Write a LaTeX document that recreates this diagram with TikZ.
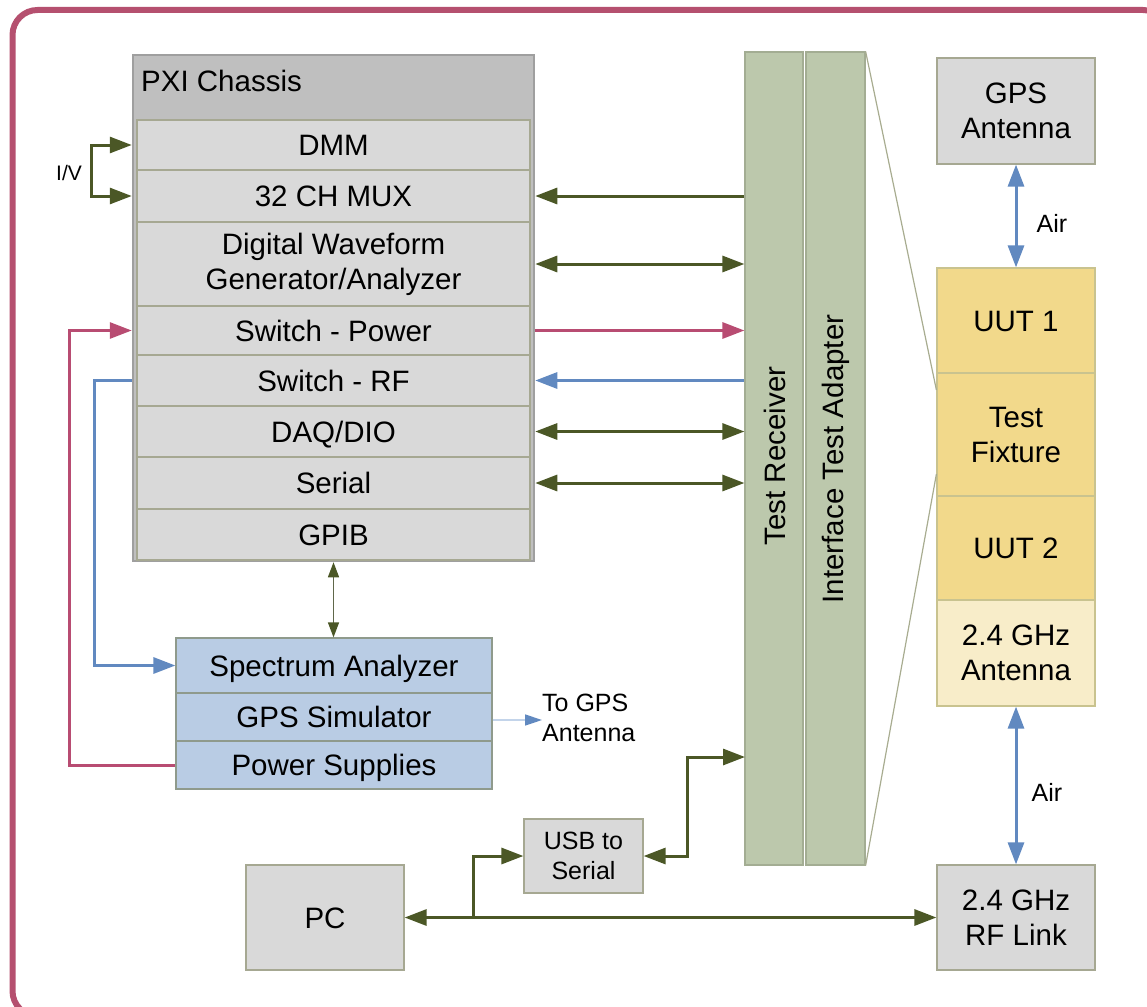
\documentclass[tikz,border=0pt]{standalone}
\usepackage{fontspec}
\setmainfont{Liberation Sans}
\usetikzlibrary{arrows.meta,calc}
\definecolor{framec}{HTML}{B5506F}
\definecolor{olv}{HTML}{4B5726}
\definecolor{mag}{HTML}{B84C72}
\definecolor{blu}{HTML}{6189C0}
\definecolor{lblu}{HTML}{C3D4EA}
\definecolor{boxgray}{HTML}{D9D9D9}
\definecolor{hdrgray}{HTML}{BFBFBF}
\definecolor{boxline}{HTML}{A6A892}
\definecolor{sage}{HTML}{BCC8AC}
\definecolor{sageline}{HTML}{A3AD93}
\definecolor{gold}{HTML}{F2D98B}
\definecolor{lgold}{HTML}{F8EDC9}
\definecolor{goldline}{HTML}{C9C38F}
\definecolor{steel}{HTML}{B9CCE4}
\definecolor{steelline}{HTML}{8F9A8C}
\definecolor{zoomc}{HTML}{A8AC90}
\newcommand\fmain{\fontsize{29.5}{35}\selectfont}
\newcommand\fsmall{\fontsize{25}{30}\selectfont}
\newcommand\ftiny{\fontsize{21}{25}\selectfont}
\tikzset{
  >={Triangle[length=22pt,width=16pt]},
  box/.style={draw=boxline, line width=1.2, fill=boxgray, inner sep=0, align=center, font=\fmain},
  one/.style={text height=21pt, text depth=0pt},
  row/.style={box, minimum width=393},
  gbox/.style={draw=sageline, line width=1.2, fill=sage, inner sep=0},
  ybox/.style={box, draw=goldline, fill=gold, minimum width=158},
  sbox/.style={box, draw=steelline, fill=steel, minimum width=316},
  olvline/.style={draw=olv, line width=3},
  magline/.style={draw=mag, line width=3},
  bluline/.style={draw=blu, line width=3},
  lbl/.style={inner sep=0, align=center},
}
\begin{document}
\begin{tikzpicture}[x=1pt,y=-1pt]
\useasboundingbox (0,0) rectangle (1147,1006);
\begin{scope}
\clip (0,0) rectangle (1147,1006);
\draw[framec, line width=6, rounded corners=25] (12.5,10) rectangle (1168,1016);
\end{scope}

% PXI chassis
\node[draw=gray!75, line width=2.5, fill=hdrgray, minimum width=401, minimum height=506, inner sep=0] (chassis) at (333.5,308) {};
\node[anchor=west, inner sep=0, font=\fmain, one] (pxi) at (141,81) {PXI Chassis};
\node[row, one, minimum height=50] (dmm) at (333.5,145) {DMM};
\node[row, one, minimum height=52] (mux) at (333.5,196) {32 CH MUX};
\node[row, minimum height=84] (dwg) at (333.5,264) {Digital Waveform\\Generator/Analyzer};
\node[row, one, minimum height=49] (swp) at (333.5,330.5) {Switch - Power};
\node[row, one, minimum height=51] (swrf) at (333.5,380.5) {Switch - RF};
\node[row, one, minimum height=51] (daq) at (333.5,431.5) {DAQ/DIO};
\node[row, one, minimum height=52] (serial) at (333.5,483) {Serial};
\node[row, one, minimum height=51] (gpib) at (333.5,534.5) {GPIB};

% instruments
\node[sbox, one, minimum height=55] (sa) at (334,665.5) {Spectrum Analyzer};
\node[sbox, one, minimum height=48] (gs) at (334,717) {GPS Simulator};
\node[sbox, one, minimum height=48] (ps) at (334,765) {Power Supplies};

% test receiver / adapter
\node[gbox, minimum width=58, minimum height=813] (tr) at (774,458.5) {};
\node[gbox, minimum width=59, minimum height=813] (ita) at (835.5,458.5) {};
\node[rotate=90, inner sep=0, font=\fmain] (trl) at (775,456) {Test Receiver};
\node[rotate=90, inner sep=0, font=\fmain] (ital) at (836,459) {Interface Test Adapter};

% right column
\node[box, minimum width=158, minimum height=106] (gpsant) at (1016,111) {GPS\\Antenna};
\node[ybox, one, minimum height=105] (uut1) at (1016,320.5) {UUT 1};
\node[ybox, minimum height=123] (tf) at (1016,434.5) {Test\\Fixture};
\node[ybox, one, minimum height=104] (uut2) at (1016,548) {UUT 2};
\node[ybox, fill=lgold, minimum height=106] (ant) at (1016,653) {2.4 GHz\\Antenna};
\node[box, minimum width=158, minimum height=105] (rf) at (1016,917.5) {2.4 GHz\\RF Link};

% bottom
\node[box, font=\fsmall, minimum width=119, minimum height=74] (usb) at (583.5,856) {USB to\\Serial};
\node[box, one, minimum width=158, minimum height=105] (pc) at (325,917.5) {PC};

% zoom lines
\draw[zoomc, line width=1.2] (ita.north east) -- ([yshift=44.5pt]tf.west);
\draw[zoomc, line width=1.2] (ita.south east) -- ([yshift=-39.5pt]tf.west);

% I/V loop
\draw[olvline, <->] (chassis.west |- dmm) -- ++(-40,0) |- (chassis.west |- mux);
\node[lbl, font=\ftiny] (iv) at (69,173) {I/V};

% chassis <-> test receiver
\draw[olvline, ->] (tr.west |- mux) -- (chassis.east |- mux);
\draw[olvline, <->] (chassis.east |- dwg) -- (tr.west |- dwg);
\draw[magline, -{Triangle[length=22pt,width=16pt]}] (chassis.east |- swp) -- (tr.west |- swp);
\draw[bluline, -{Triangle[length=22pt,width=16pt]}] (tr.west |- swrf) -- (chassis.east |- swrf);
\draw[olvline, <->] (chassis.east |- daq) -- (tr.west |- daq);
\draw[olvline, <->] (chassis.east |- serial) -- (tr.west |- serial);

% left loops
\draw[magline, -{Triangle[length=22pt,width=16pt]}] (ps.west) -- ++(-106,0) |- (chassis.west |- swp);
\draw[bluline, -{Triangle[length=22pt,width=16pt]}] (chassis.west |- swrf) -- ++(-37,0) |- (sa.west);

% GPIB <-> instruments
\draw[draw=olv!60!gray, line width=1.3, {Triangle[length=15pt,width=11pt,color=olv]}-{Triangle[length=15pt,width=11pt,color=olv]}] (chassis.south) -- (chassis.south |- sa.north);

% GPS simulator -> to GPS antenna
\node[lbl, anchor=west, align=left, font=\fsmall] (togps) at (542,718) {To GPS\\Antenna};
\draw[lblu, line width=1.5, -{Triangle[length=17pt,width=11pt,color=blu]}] ([yshift=-3pt]gs.east) -- ([yshift=-2pt]togps.west);

% PC connections
\draw[olvline, <->] (pc.east) -- (rf.west);
\coordinate (br) at (473,917.5);
\draw[olvline, ->] (br) |- (usb.west);
\coordinate (trusb) at (745,757);
\draw[olvline, <->] (usb.east) -- ++(44,0) |- (trusb);

% air links
\draw[bluline, <->] (gpsant.south) -- (uut1.north);
\draw[bluline, <->] (ant.south) -- (rf.north);
\node[lbl, font=\fsmall] (air1) at (1052,223) {Air};
\node[lbl, font=\fsmall] (air2) at (1047,792) {Air};
\end{tikzpicture}
\end{document}
